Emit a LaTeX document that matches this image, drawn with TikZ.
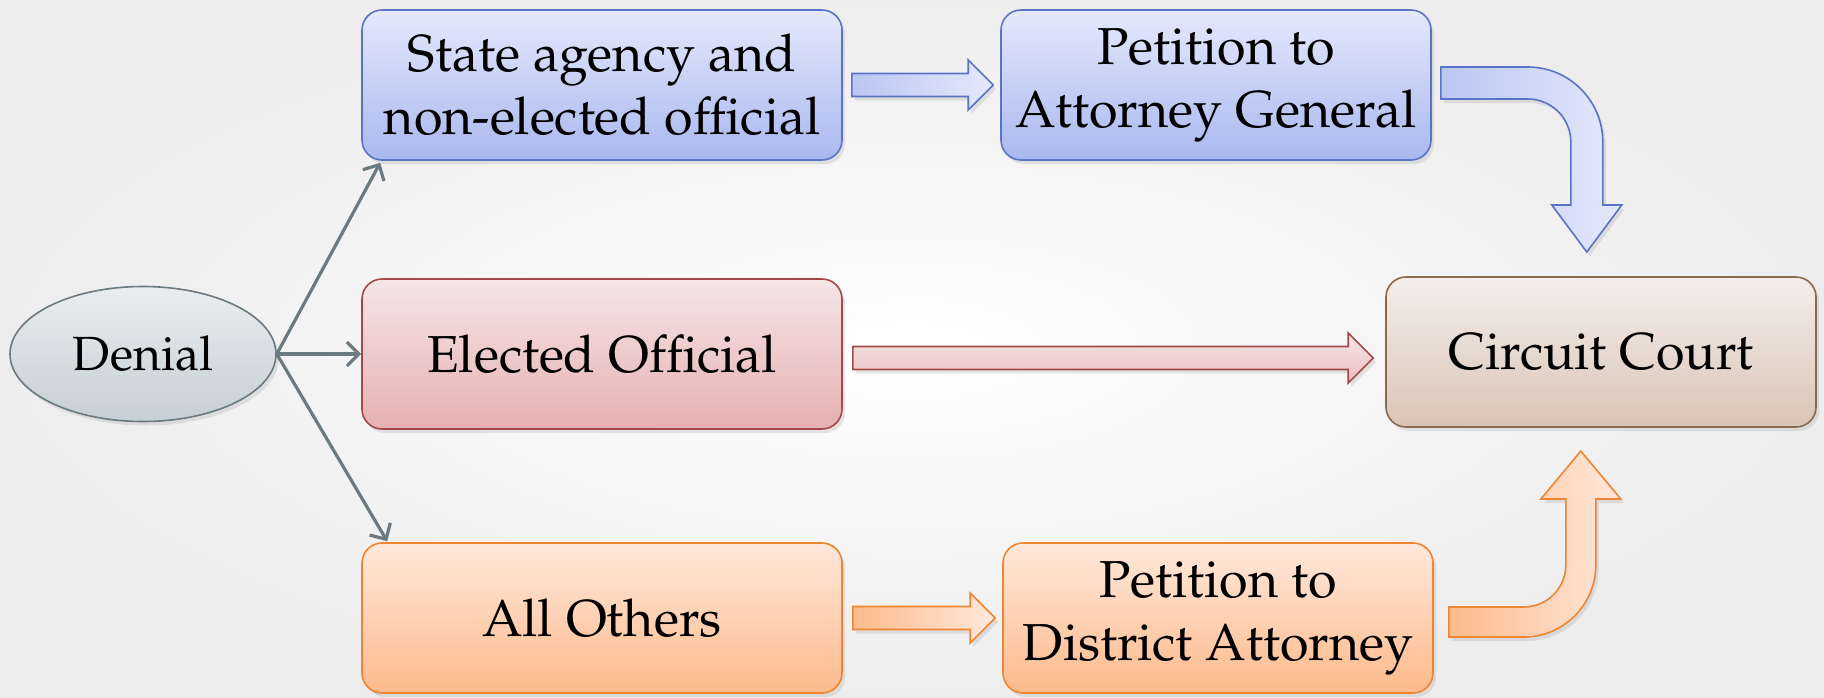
\documentclass[tikz,border=0pt]{standalone}
\usepackage[T1]{fontenc}
\usepackage{mathpazo}
\usetikzlibrary{arrows.meta,calc,shadows,shapes.geometric}

\definecolor{blueline}{HTML}{5B73C4}
\definecolor{bluetop}{HTML}{E4E9FB}
\definecolor{bluebot}{HTML}{A9B8EF}
\definecolor{redline}{HTML}{A3494A}
\definecolor{redtop}{HTML}{F5E6E6}
\definecolor{redbot}{HTML}{E6B0B1}
\definecolor{orline}{HTML}{EE8530}
\definecolor{ortop}{HTML}{FFE8DB}
\definecolor{orbot}{HTML}{FDBA8C}
\definecolor{brline}{HTML}{8A6A4C}
\definecolor{brtop}{HTML}{F3EEEA}
\definecolor{brbot}{HTML}{DBC4B6}
\definecolor{gyline}{HTML}{6B7A80}
\definecolor{gytop}{HTML}{E9EDEF}
\definecolor{gybot}{HTML}{C6CFD3}

\tikzset{
  shade/.style={drop shadow={shadow xshift=1.5pt,shadow yshift=-2pt,opacity=.18}},
  box/.style={shade, rounded corners=10pt, minimum width=240pt, minimum height=75pt,
    inner sep=2pt, align=center, line width=.8pt, font=\fontsize{26}{31.5}\selectfont},
  narrow/.style={minimum width=215pt},
  bluebox/.style={box, draw=blueline, top color=bluetop, bottom color=bluebot},
  redbox/.style={box, draw=redline, top color=redtop, bottom color=redbot},
  orbox/.style={box, draw=orline, top color=ortop, bottom color=orbot},
  brbox/.style={box, draw=brline, top color=brtop, bottom color=brbot},
  oval/.style={shade, ellipse, draw=gyline, line width=.8pt, top color=gytop, bottom color=gybot,
    minimum width=133pt, minimum height=67.5pt, font=\fontsize{24}{29}\selectfont},
  link/.style={draw=gyline, line width=1.6pt, -{Straight Barb[length=6pt,width=12pt,line width=1.6pt]}},
  bluearr/.style={shade, draw=blueline, line width=.8pt, left color=bluebot!80!white, right color=bluetop},
  redarr/.style={shade, draw=redline, line width=.8pt, top color=redtop, bottom color=redbot!80!white},
  orarr/.style={shade, draw=orline, line width=.8pt, left color=orbot, right color=ortop},
}

% flat block arrow: start, tip, style
\newcommand\flatarrow[3]{%
  \draw[#3] ($(#1)+(0,-11.5)$) -- ($(#2)+(-25,-11.5)$) -- ($(#2)+(-25,-25)$) -- (#2)
    -- ($(#2)+(-25,25)$) -- ($(#2)+(-25,11.5)$) -- ($(#1)+(0,11.5)$) -- cycle;}

\begin{document}
\begin{tikzpicture}[x=0.5pt,y=-0.5pt]
  \shade[inner color=white, outer color=black!7] (0,0) rectangle (1824,697);
  \useasboundingbox (0,0) rectangle (1824,697);

  \node[oval] (den) at (143,354) {Denial};
  \node[bluebox] (sa) at (602,85) {State agency and\\non-elected official};
  \node[redbox] (eo) at (602,354) {Elected Official};
  \node[orbox] (ao) at (602,618) {All Others};
  \node[bluebox,narrow] (pag) at (1216,85) {Petition to\\Attorney General};
  \node[orbox,narrow] (pda) at (1218,618) {Petition to\\District Attorney};
  \node[brbox,narrow] (cc) at (1601,352) {Circuit Court};

  % from the denial
  \draw[link] (den.east) -- ($(sa.south west)+(19,2)$);
  \draw[link] (den.east) -- (eo.west);
  \draw[link] (den.east) -- ($(ao.north west)+(26,-1)$);

  % block arrows
  \flatarrow{$(sa.east)+(9,0)$}{$(pag.west)+(-7,0)$}{bluearr}
  \flatarrow{$(eo.east)+(10,4)$}{$(cc.west)+(-12,6)$}{redarr}
  \flatarrow{$(ao.east)+(10,0)$}{$(pda.west)+(-7,0)$}{orarr}

  % bent arrows into the court
  \draw[bluearr] ($(pag.east)+(9,-18)$) -- ++(87,0) .. controls +(41.4,0) and +(0,-41.4) .. ++(75,75)
    -- ++(0,63) -- ++(19,0) -- ++(-35,47) -- ++(-35,-47) -- ++(19,0) -- ++(0,-63)
    .. controls +(0,-23.7) and +(23.7,0) .. ++(-43,-43) -- ++(-87,0) -- cycle;
  \draw[orarr] ($(pda.east)+(15,-11)$) -- ++(75,0) .. controls +(23.2,0) and +(0,23.2) .. ++(42,-42)
    -- ++(0,-66) -- ++(-25,0) -- ++(40,-48) -- ++(40,48) -- ++(-25,0) -- ++(0,66)
    .. controls +(0,39.8) and +(39.8,0) .. ++(-72,72) -- ++(-75,0) -- cycle;
\end{tikzpicture}
\end{document}
